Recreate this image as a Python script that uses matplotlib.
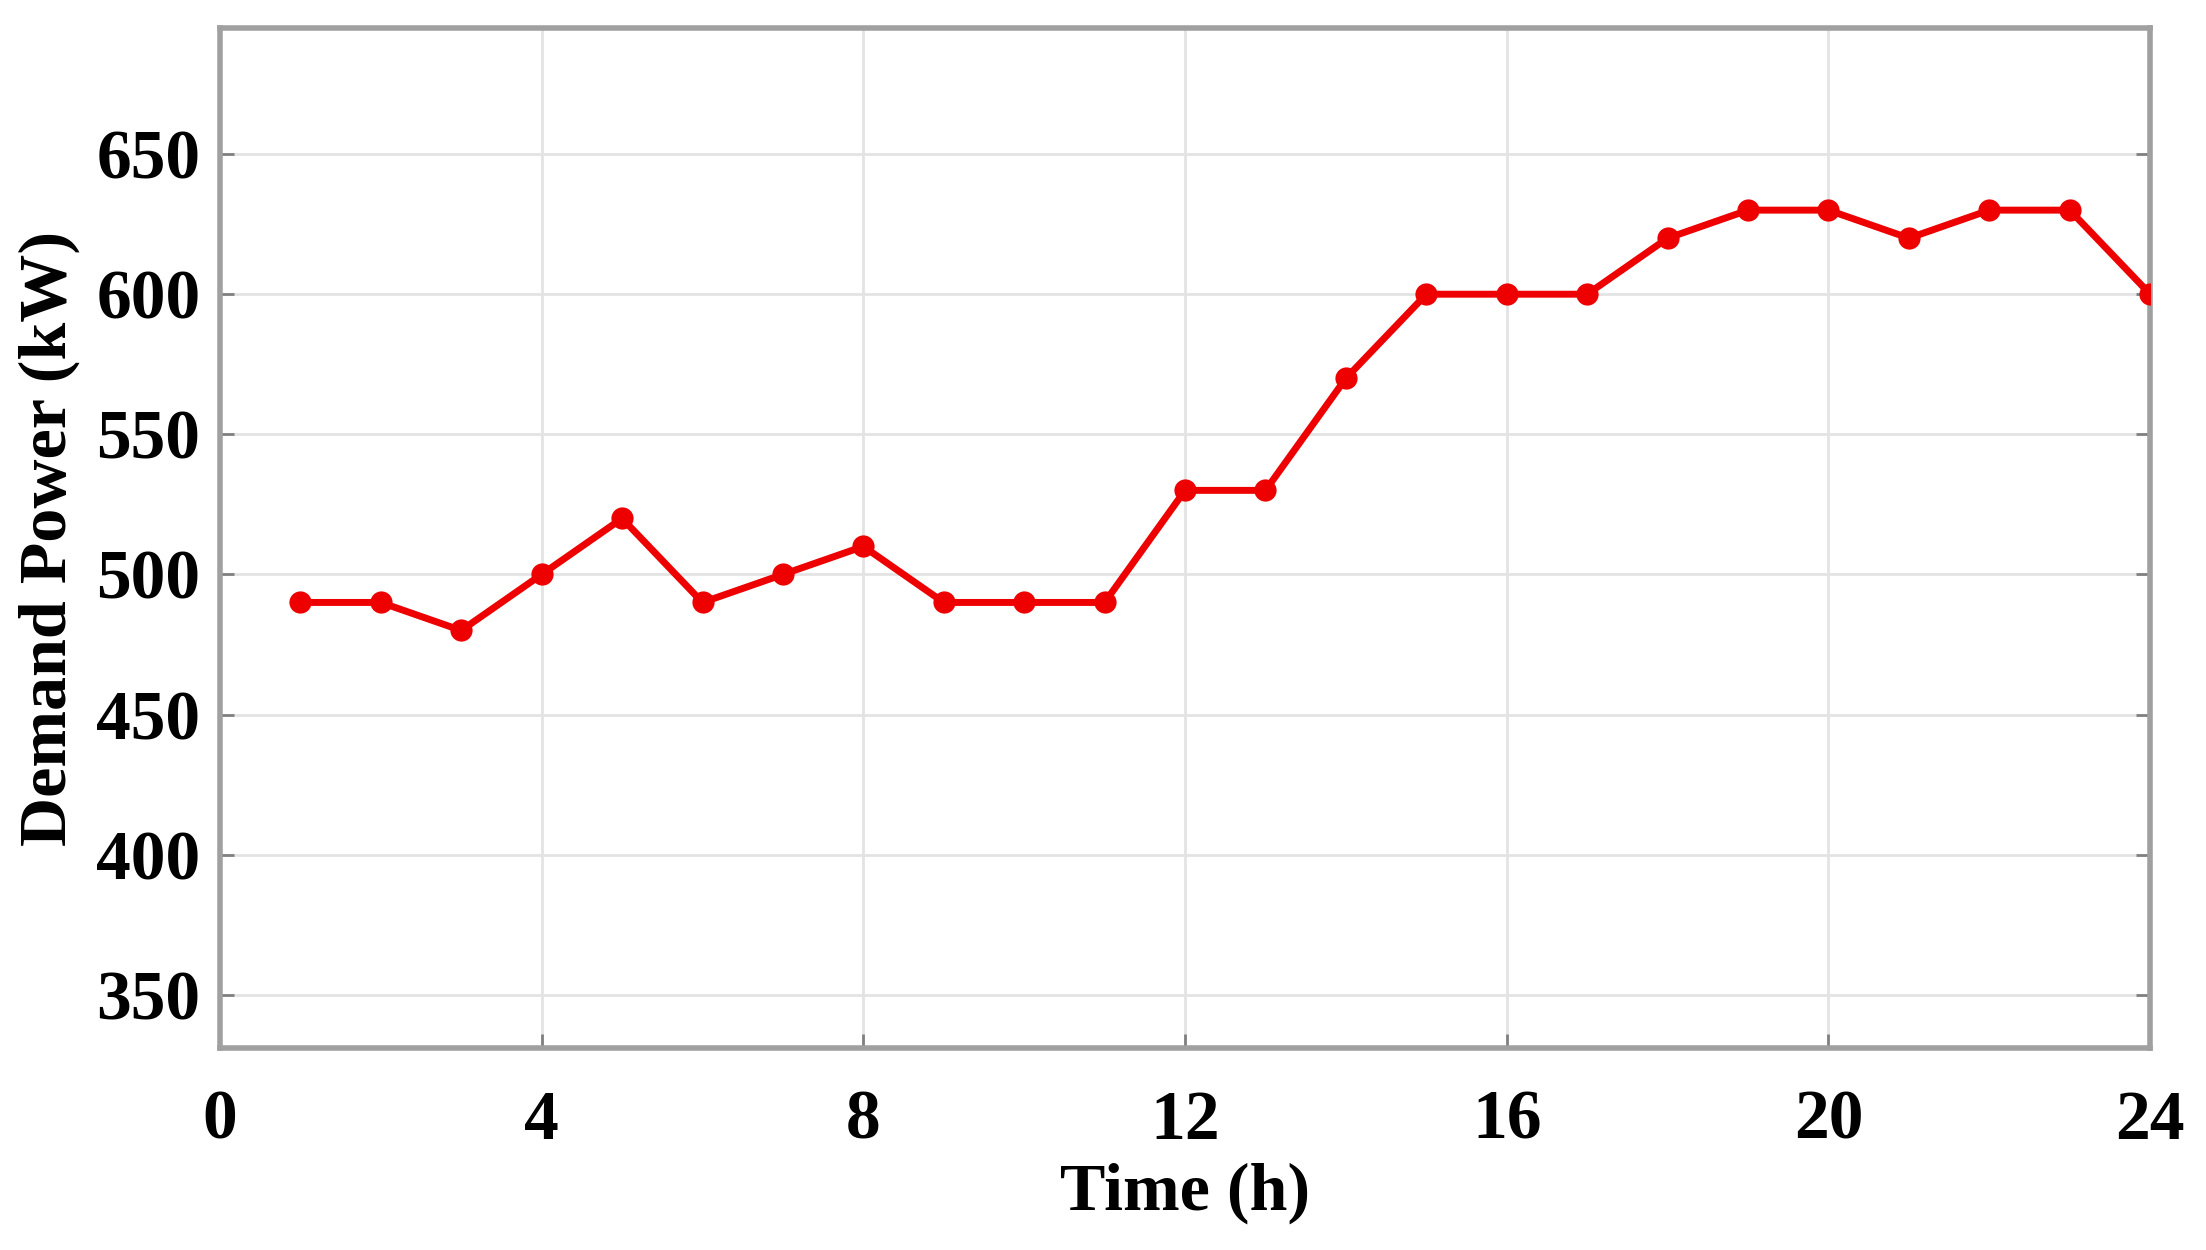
import matplotlib.pyplot as plt

hours = list(range(1, 25))
demand = [490, 490, 480, 500, 520, 490, 500, 510, 490, 490, 490, 530,
          530, 570, 600, 600, 600, 620, 630, 630, 620, 630, 630, 600]
xticks = [0, 4, 8, 12, 16, 20, 24]
yticks = [350, 400, 450, 500, 550, 600, 650]

plt.rcParams['font.family'] = ['Liberation Serif', 'DejaVu Serif']
plt.rcParams['font.weight'] = 'bold'

fig = plt.figure(figsize=(22.06, 12.5), dpi=100)
ax = fig.add_axes([0.0997, 0.1616, 0.875, 0.816])

ax.plot(hours, demand, color='#ee0000', lw=5, marker='o', markersize=16,
        markeredgewidth=0, zorder=3)

ax.set_xlim(0, 24)
ax.set_ylim(331, 695)
ax.set_xticks(xticks)
ax.set_yticks(yticks)
ax.grid(True, color='#e3e3e3', lw=2)
ax.tick_params(direction='in', length=10, width=2, color='#808080',
               labelsize=50, top=False, right=True)
ax.tick_params(axis='x', pad=30)
ax.tick_params(axis='y', pad=14)
for s in ax.spines.values():
    s.set_color('#a0a0a0')
    s.set_linewidth(4)

ax.set_xlabel("Time (h)", fontsize=49, fontweight='bold', labelpad=6)
ax.set_ylabel("Demand Power (kW)", fontsize=49, fontweight='bold', labelpad=12)

plt.savefig("out.png", dpi=100)
